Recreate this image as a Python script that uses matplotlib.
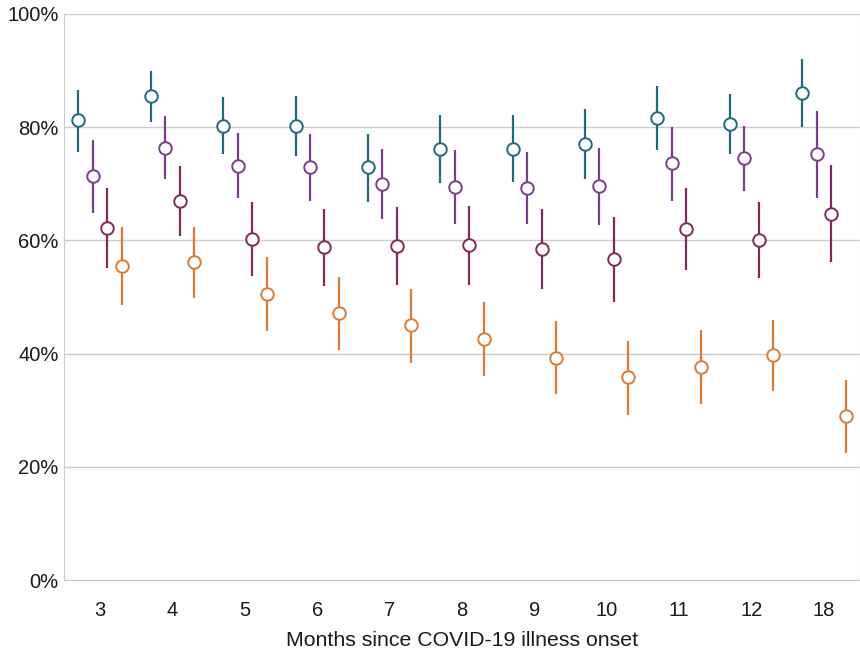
import matplotlib
matplotlib.use('Agg')
import matplotlib.pyplot as plt
import numpy as np

plt.rcParams['font.family'] = ['Liberation Sans', 'DejaVu Sans']

MONTHS = ["3", "4", "5", "6", "7", "8", "9", "10", "11", "12", "18"]

# point estimates (%)
TEAL = [81.3, 85.5, 80.3, 80.2, 72.9, 76.1, 76.2, 77.0, 81.7, 80.6, 86.1]
PURPLE = [71.4, 76.3, 73.2, 73.0, 70.0, 69.5, 69.3, 69.6, 73.6, 74.5, 75.2]
MAROON = [62.2, 67.0, 60.2, 58.8, 59.0, 59.2, 58.5, 56.7, 62.0, 60.0, 64.7]
ORANGE = [55.5, 56.2, 50.5, 47.2, 45.0, 42.6, 39.3, 35.8, 37.6, 39.7, 29.0]

# confidence interval bounds (%)
TEAL_LO = [75.6, 81.0, 75.3, 75.0, 66.8, 70.1, 70.4, 70.8, 76.0, 75.3, 80.0]
TEAL_HI = [86.6, 90.0, 85.4, 85.5, 78.8, 82.1, 82.1, 83.2, 87.2, 85.8, 92.0]
PURPLE_LO = [64.8, 70.8, 67.5, 67.0, 63.8, 62.9, 62.9, 62.8, 67.0, 68.7, 67.5]
PURPLE_HI = [77.7, 81.9, 79.0, 78.8, 76.1, 76.0, 75.6, 76.4, 80.1, 80.3, 82.8]
MAROON_LO = [55.1, 60.8, 53.7, 52.0, 52.1, 52.1, 51.5, 49.1, 54.7, 53.3, 56.1]
MAROON_HI = [69.3, 73.2, 66.7, 65.5, 65.9, 66.1, 65.5, 64.2, 69.2, 66.7, 73.3]
ORANGE_LO = [48.6, 49.8, 44.0, 40.7, 38.3, 36.0, 32.8, 29.2, 31.1, 33.4, 22.4]
ORANGE_HI = [62.4, 62.4, 57.0, 53.5, 51.4, 49.1, 45.8, 42.3, 44.1, 45.9, 35.3]

series = [
    (TEAL, TEAL_LO, TEAL_HI, '#1f6b7d', -0.3),
    (PURPLE, PURPLE_LO, PURPLE_HI, '#7a3f88', -0.1),
    (MAROON, MAROON_LO, MAROON_HI, '#7e2b5c', 0.1),
    (ORANGE, ORANGE_LO, ORANGE_HI, '#dc7b33', 0.3),
]

fig = plt.figure(figsize=(8.6, 6.51), dpi=100)
ax = fig.add_axes([0.0744, 0.109, 0.9256, 0.8695])
x = np.arange(len(MONTHS))

for vals, lo, hi, col, off in series:
    vals = np.array(vals); lo = np.array(lo); hi = np.array(hi)
    ax.vlines(x + off, lo, hi, color=col, linewidth=1.6, zorder=2)
    ax.plot(x + off, vals, 'o', markersize=9, markerfacecolor='white',
            markeredgecolor=col, markeredgewidth=1.4, linestyle='none', zorder=3)

ax.set_xlim(-0.5, len(MONTHS) - 0.5)
ax.set_ylim(0, 100)
ax.set_yticks([0, 20, 40, 60, 80, 100])
ax.set_yticklabels([f"{v}%" for v in [0, 20, 40, 60, 80, 100]], fontsize=14.5)
ax.set_xticks(x)
ax.set_xticklabels(MONTHS, fontsize=14.5)
ax.tick_params(axis='x', length=0, pad=15, colors='#1a1a1a')
ax.tick_params(axis='y', length=0, pad=4, colors='#1a1a1a')
ax.yaxis.grid(True, color='#cccccc', linewidth=1)
ax.set_axisbelow(True)
ax.spines['top'].set_visible(False)
for s in ['left', 'right', 'bottom']:
    ax.spines[s].set_color('#cccccc')
ax.set_xlabel("Months since COVID-19 illness onset", fontsize=15.3, color='#1a1a1a', labelpad=8)

plt.savefig('out.png', dpi=100)
